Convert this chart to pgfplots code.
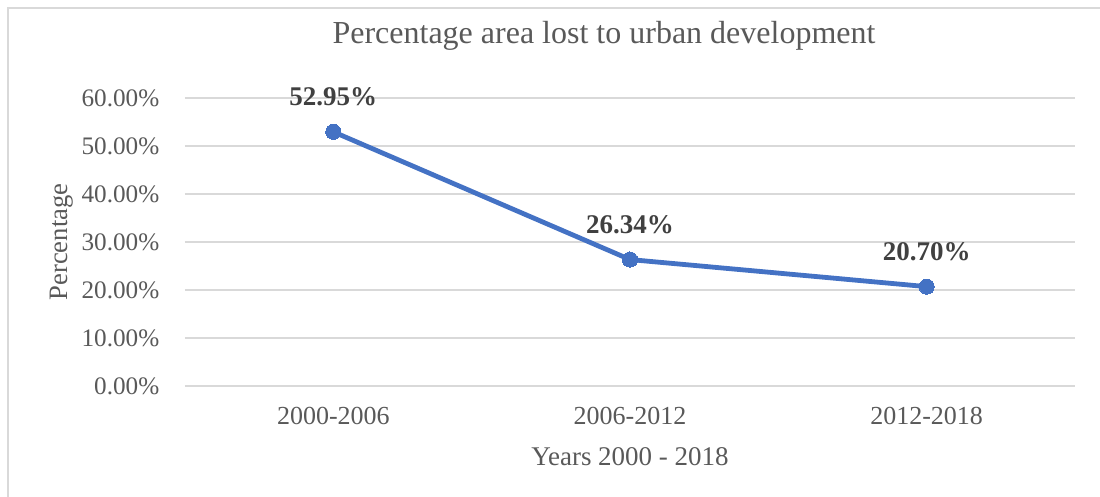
\documentclass[border=0pt]{standalone}
\usepackage{pgfplots}
\pgfplotsset{compat=1.18}
\usepackage{fontspec}
\setmainfont{Liberation Serif}
\definecolor{txtgray}{HTML}{595959}
\definecolor{lblgray}{HTML}{404040}
\definecolor{gridgray}{HTML}{D9D9D9}
\definecolor{xlblue}{HTML}{4472C4}
\begin{document}
\begin{tikzpicture}
\useasboundingbox (0,0) rectangle (550pt,248.5pt);
\draw[gridgray, line width=0.6pt] (4pt,0) -- (4pt,244.5pt) -- (550pt,244.5pt);
\begin{axis}[
  at={(92.5pt,55.5pt)}, anchor=south west,
  scale only axis, width=445pt, height=144pt,
  xmin=-0.5, xmax=2.5, ymin=0, ymax=60,
  xtick={0,1,2}, xticklabels={2000-2006,2006-2012,2012-2018},
  ytick={0,10,20,30,40,50,60},
  /pgf/number format/assume math mode=true,
  yticklabel={\pgfmathprintnumber[fixed,fixed zerofill,precision=2]{\tick}\%},
  axis line style={draw=none},
  major tick style={draw=none},
  ymajorgrids, major grid style={gridgray, line width=0.6pt},
  tick label style={font=\fontsize{12.6pt}{14pt}\selectfont, text=txtgray},
  yticklabel style={anchor=east, xshift=-9.3pt},
  xticklabel style={anchor=center, yshift=-15pt, font=\fontsize{13pt}{15pt}\selectfont},
  clip=false,
  nodes near coords={\pgfmathprintnumber[fixed,fixed zerofill,precision=2]{\pgfplotspointmeta}\%},
  every node near coord/.append style={anchor=center, yshift=17.5pt, font=\bfseries\fontsize{13.5pt}{15pt}\selectfont, text=lblgray},
]
\addplot[color=xlblue, line width=2.4pt, mark=*, mark size=3.8pt, mark options={fill=xlblue, draw=xlblue, line width=0pt}]
  coordinates {(0,52.95) (1,26.34) (2,20.70)};
\end{axis}
\node[anchor=base, text=txtgray, font=\fontsize{16pt}{19pt}\selectfont] at (302pt,226.5pt) {Percentage area lost to urban development};
\node[anchor=base, text=txtgray, font=\fontsize{13.5pt}{15pt}\selectfont] at (315pt,15.5pt) {Years 2000 - 2018};
\node[rotate=90, anchor=center, text=txtgray, font=\fontsize{13.3pt}{15pt}\selectfont] at (31pt,127.5pt) {Percentage};
\end{tikzpicture}
\end{document}
